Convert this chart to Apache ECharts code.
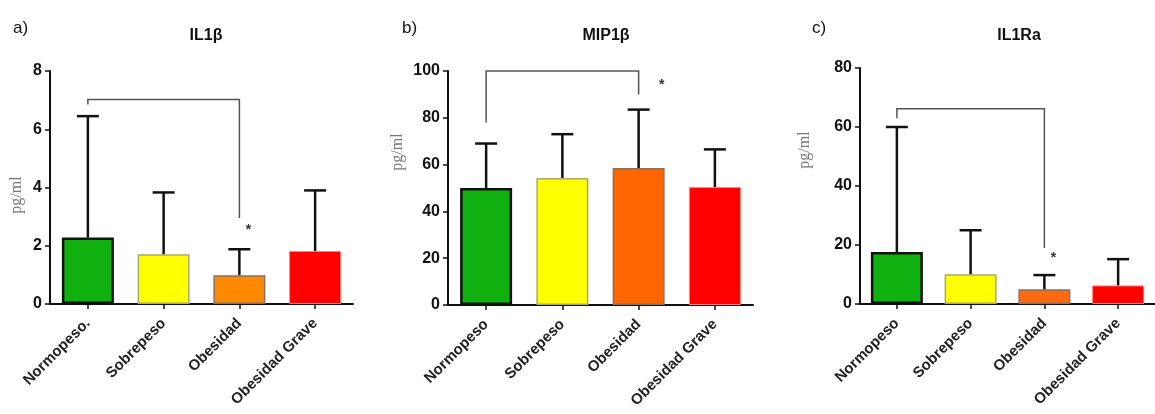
<!DOCTYPE html>
<html>
<head>
<meta charset="utf-8">
<script src="https://cdn.jsdelivr.net/npm/echarts@6/dist/echarts.min.js"></script>
<style>
  html, body { margin: 0; padding: 0; background: #fff; }
  #chart { width: 1155px; height: 414px; }
</style>
</head>
<body>
<div id="chart"></div>
<script>
// Group labels
const categoriesIL1b = ['Normopeso.', 'Sobrepeso', 'Obesidad', 'Obesidad Grave'];
const categories = ['Normopeso', 'Sobrepeso', 'Obesidad', 'Obesidad Grave'];

// Means and upper error limits (pg/ml)
const il1bMean = [2.28, 1.71, 0.99, 1.82];
const il1bUpper = [6.45, 3.83, 1.88, 3.9];
const mip1bMean = [50, 54.3, 58.5, 50.4];
const mip1bUpper = [69, 73, 83.5, 66.5];
const il1raMean = [17.6, 10.1, 5.0, 6.3];
const il1raUpper = [60, 25, 9.8, 15.2];

// Y-axis tick values
const il1bTicks = [0, 2, 4, 6, 8];
const mip1bTicks = [0, 20, 40, 60, 80, 100];
const il1raTicks = [0, 20, 40, 60, 80];

// Significance brackets: [category index, value]
const il1bBracket = [[0, 6.85], [0, 7.02], [2, 7.02], [2, 2.95]];
const mip1bBracket = [[0, 78], [0, 100], [2, 100], [2, 90]];
const il1raBracket = [[0, 63], [0, 66.2], [2, 66.2], [2, 19]];

// Significance marks: [category index, value]
const il1bStar = [[2, 2.55]];
const mip1bStar = [[2, 94]];
const il1raStar = [[2, 15.6]];

// Bar styles per group
const barStyles = [
  { color: '#10b010', borderColor: '#111111', borderWidth: 2.5 },
  { color: '#ffff00', borderColor: '#a8a870', borderWidth: 1.5 },
  null,
  { color: '#ff0000', borderColor: '#ff8080', borderWidth: 1 }
];
const orangeA = { color: '#ff8a00', borderColor: '#8a7060', borderWidth: 1.5 };
const orangeB = { color: '#ff6600', borderColor: '#8a7060', borderWidth: 1.5 };
const orangeC = { color: '#ff6a10', borderColor: '#8a7060', borderWidth: 1.5 };

const panels = [
  { cats: categoriesIL1b, mean: il1bMean, upper: il1bUpper, ticks: il1bTicks, bracket: il1bBracket, star: il1bStar, orange: orangeA, starDx: 9,
    grid: { left: 50, top: 71, width: 303, height: 233 }, namePad: [0, 15, 0, 0], nameGap: 25 },
  { cats: categories, mean: mip1bMean, upper: mip1bUpper, ticks: mip1bTicks, bracket: mip1bBracket, star: mip1bStar, orange: orangeB, starDx: 23,
    grid: { left: 448, top: 71, width: 305, height: 234 }, namePad: [0, 0, 0, 72], nameGap: 42 },
  { cats: categories, mean: il1raMean, upper: il1raUpper, ticks: il1raTicks, bracket: il1raBracket, star: il1raStar, orange: orangeC, starDx: 9,
    grid: { left: 860, top: 68, width: 306, height: 236 }, namePad: [0, 0, 0, 72], nameGap: 47 }
];

const tickFont = { fontFamily: '"Liberation Sans Narrow", "Liberation Sans", Arial, sans-serif', fontWeight: 'bold', fontSize: 16, color: '#111' };

const grids = [], xAxes = [], yAxes = [], series = [];

panels.forEach((p, k) => {
  grids.push(p.grid);
  xAxes.push({
    type: 'category', gridIndex: k, data: p.cats,
    axisLine: { show: true, lineStyle: { color: '#111', width: 2 } },
    axisTick: { show: true, alignWithLabel: true, length: 5, lineStyle: { color: '#111', width: 1.5 } },
    axisLabel: { rotate: 45, margin: 17, interval: 0, fontFamily: '"Liberation Sans", Arial, sans-serif', fontWeight: 'bold', fontSize: 15, color: '#222' }
  });
  const t = p.ticks;
  yAxes.push({
    type: 'value', gridIndex: k, min: t[0], max: t[t.length - 1], interval: t[1] - t[0],
    name: 'pg/ml', nameLocation: 'middle', nameGap: p.nameGap,
    nameTextStyle: { fontFamily: '"Liberation Serif", "Times New Roman", serif', fontSize: 16, color: '#777', padding: p.namePad },
    axisLine: { show: true, lineStyle: { color: '#111', width: 2 } },
    axisTick: { show: true, length: 5, lineStyle: { color: '#111', width: 1.5 } },
    axisLabel: Object.assign({ margin: 8 }, tickFont),
    splitLine: { show: false }
  });

  // Bars
  series.push({
    type: 'bar', xAxisIndex: k, yAxisIndex: k, barWidth: 52, z: 2,
    data: p.mean.map((v, i) => ({ value: v, itemStyle: (i === 2 ? p.orange : barStyles[i]) }))
  });

  // Upper error bars
  series.push({
    type: 'custom', xAxisIndex: k, yAxisIndex: k, z: 3,
    data: p.mean.map((v, i) => [i, v, p.upper[i]]),
    renderItem: (params, api) => {
      const base = api.coord([api.value(0), api.value(1)]);
      const top = api.coord([api.value(0), api.value(2)]);
      const half = 11;
      const st = { stroke: '#111', lineWidth: 2.5 };
      return { type: 'group', children: [
        { type: 'line', shape: { x1: base[0], y1: base[1], x2: top[0], y2: top[1] }, style: st },
        { type: 'line', shape: { x1: top[0] - half, y1: top[1], x2: top[0] + half, y2: top[1] }, style: st }
      ]};
    }
  });

  // Significance bracket
  series.push({
    type: 'custom', xAxisIndex: k, yAxisIndex: k, z: 4,
    data: [0],
    renderItem: (params, api) => ({
      type: 'polyline',
      shape: { points: p.bracket.map(d => api.coord(d)) },
      style: { stroke: '#555', lineWidth: 1.5, fill: null }
    })
  });

  // Significance mark
  series.push({
    type: 'custom', xAxisIndex: k, yAxisIndex: k, z: 4,
    data: p.star,
    renderItem: (params, api) => {
      const pt = api.coord([api.value(0), api.value(1)]);
      return { type: 'text', x: pt[0] + p.starDx, y: pt[1],
        style: { text: '*', fill: '#333', font: 'bold 14px "Liberation Sans", Arial', align: 'center', verticalAlign: 'middle' } };
    }
  });
});

const titleFont = { fontFamily: '"Liberation Sans", Arial, sans-serif', fontWeight: 'bold', fontSize: 16, color: '#111' };
const tagFont = { fontFamily: '"Liberation Sans", Arial, sans-serif', fontWeight: 'normal', fontSize: 17, color: '#111' };

const chart = echarts.init(document.getElementById('chart'), null, { renderer: 'canvas' });
chart.setOption({
  animation: false,
  backgroundColor: '#fff',
  title: [
    { text: 'a)', left: 8, top: 15, textStyle: tagFont },
    { text: 'b)', left: 397, top: 15, textStyle: tagFont },
    { text: 'c)', left: 807, top: 15, textStyle: tagFont },
    { text: 'IL1β', left: 201, top: 23, textAlign: 'center', textStyle: titleFont },
    { text: 'MIP1β', left: 601, top: 23, textAlign: 'center', textStyle: titleFont },
    { text: 'IL1Ra', left: 1014, top: 23, textAlign: 'center', textStyle: titleFont }
  ],
  grid: grids,
  xAxis: xAxes,
  yAxis: yAxes,
  series: series
});
</script>
</body>
</html>
